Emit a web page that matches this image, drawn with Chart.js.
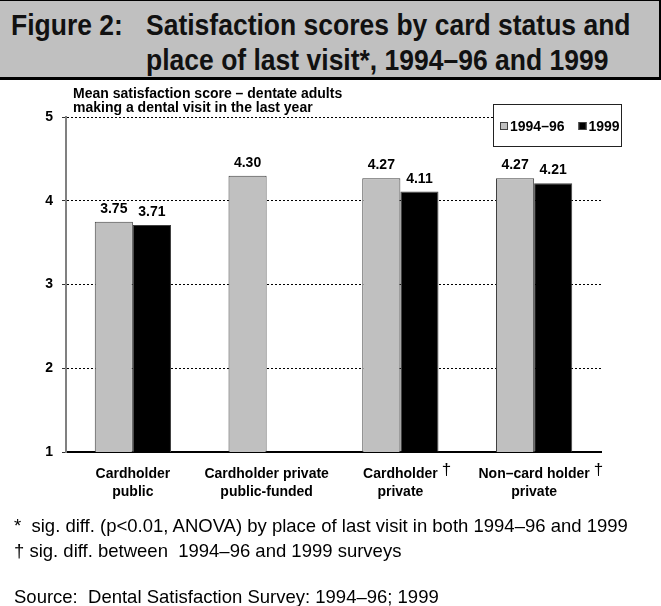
<!DOCTYPE html>
<html>
<head>
<meta charset="utf-8">
<script src="https://cdn.jsdelivr.net/npm/chart.js@4/dist/chart.umd.min.js"></script>
<style>
html,body{margin:0;padding:0;background:#fff;width:661px;height:606px;overflow:hidden;font-family:"Liberation Sans",Arial,sans-serif;color:#000;}
#wrap{position:relative;width:661px;height:606px;}
#chart{position:absolute;left:0;top:0;}
.band{position:absolute;left:0;top:0;width:659px;height:76px;background:#c0c0c0;border-top:1px solid #000;border-bottom:3px solid #000;border-right:2px solid #000;}
.t{position:absolute;font-weight:bold;font-size:26.5px;line-height:32px;color:#111;white-space:pre;transform:scaleY(1.1);transform-origin:0 0;}
.ycap{position:absolute;left:73px;top:86px;font-weight:bold;font-size:14px;line-height:14px;white-space:pre;}
.fn{position:absolute;left:14px;font-size:18.5px;line-height:25px;white-space:pre;}
</style>
</head>
<body>
<div id="wrap">
  <canvas id="chart" width="661" height="606"></canvas>
  <div class="band"></div>
  <div class="t" style="left:11px;top:7px;">Figure 2:</div>
  <div class="t" style="left:146px;top:7px;">Satisfaction scores by card status and
place of last visit*, 1994–96 and 1999</div>
  <div class="ycap">Mean satisfaction score – dentate adults
making a dental visit in the last year</div>
  <div class="fn" style="top:513px;">*  sig. diff. (p&lt;0.01, ANOVA) by place of last visit in both 1994–96 and 1999
† sig. diff. between  1994–96 and 1999 surveys</div>
  <div class="fn" style="top:584px;">Source:  Dental Satisfaction Survey: 1994–96; 1999</div>
</div>
<script>
const categories = [
  ['Cardholder', 'public'],
  ['Cardholder private', 'public-funded'],
  ['Cardholder', 'private'],
  ['Non–card holder', 'private']
];
const sigMarks = ['', '', '†', '†'];
const seriesLabels = ['1994–96', '1999'];
const series1994 = [3.75, 4.30, 4.27, 4.27];
const series1999 = [3.71, null, 4.11, 4.21];
const yTicks = [1, 2, 3, 4, 5];

const FONT = '"Liberation Sans", Arial, sans-serif';

const valueLabels = {
  id: 'valueLabels',
  afterDatasetsDraw(chart) {
    const ctx = chart.ctx;
    ctx.save();
    ctx.font = 'bold 14px ' + FONT;
    ctx.fillStyle = '#000';
    ctx.textAlign = 'center';
    ctx.textBaseline = 'alphabetic';
    chart.data.datasets.forEach((ds, i) => {
      const meta = chart.getDatasetMeta(i);
      meta.data.forEach((bar, j) => {
        const v = ds.data[j];
        if (v == null) return;
        ctx.fillText(v.toFixed(2), bar.x, bar.y - 9);
      });
    });
    ctx.restore();
  }
};

const sigMarker = {
  id: 'sigMarker',
  afterDraw(chart) {
    const xs = chart.scales.x, ctx = chart.ctx;
    ctx.save();
    sigMarks.forEach((m, i) => {
      if (!m) return;
      ctx.font = 'bold 14px ' + FONT;
      const w = ctx.measureText(categories[i][0]).width;
      const cx = xs.getPixelForValue(i);
      ctx.font = '17px ' + FONT;
      ctx.fillStyle = '#000';
      ctx.textAlign = 'left';
      ctx.textBaseline = 'alphabetic';
      ctx.fillText(m, cx + w / 2 + 4, xs.top + 23);
    });
    ctx.restore();
  }
};

const boxLegend = {
  id: 'boxLegend',
  afterDraw(chart) {
    const ctx = chart.ctx, a = chart.chartArea;
    const L = a.right - 108, T = a.top - 13, W = 129, H = 43;
    ctx.save();
    ctx.fillStyle = '#fff';
    ctx.fillRect(L, T, W, H);
    ctx.strokeStyle = '#222';
    ctx.lineWidth = 1;
    ctx.strokeRect(L + 0.5, T + 0.5, W - 1, H - 1);
    ctx.font = 'bold 14px ' + FONT;
    ctx.textBaseline = 'middle';
    ctx.textAlign = 'left';
    let x = L + 7;
    const y = T + 22;
    chart.data.datasets.forEach(ds => {
      ctx.fillStyle = ds.backgroundColor;
      ctx.fillRect(x, y - 4, 8, 8);
      ctx.strokeStyle = ds.borderColor;
      ctx.strokeRect(x + 0.5, y - 3.5, 7, 7);
      ctx.fillStyle = '#000';
      ctx.fillText(ds.label, x + 10, y + 1);
      x += 10 + ctx.measureText(ds.label).width + 14;
    });
    ctx.restore();
  }
};

new Chart(document.getElementById('chart'), {
  type: 'bar',
  data: {
    labels: categories,
    datasets: [
      { label: seriesLabels[0], data: series1994, backgroundColor: '#c0c0c0', borderColor: '#404040', borderWidth: 1 },
      { label: seriesLabels[1], data: series1999, backgroundColor: '#000000', borderColor: '#404040', borderWidth: 1 }
    ]
  },
  options: {
    responsive: false,
    animation: false,
    devicePixelRatio: 1,
    categoryPercentage: 0.57,
    barPercentage: 1.0,
    layout: { padding: { top: 117, right: 60, left: 0, bottom: 0 } },
    plugins: { legend: { display: false }, title: { display: false }, tooltip: { enabled: false } },
    scales: {
      x: {
        grid: { display: false, drawTicks: false, tickLength: 0 },
        border: { display: true, color: '#000', width: 2 },
        ticks: { color: '#000', font: { family: FONT, size: 14, weight: 'bold', lineHeight: 1.3 }, padding: 13, maxRotation: 0, autoSkip: false },
        afterFit: s => { s.height = 154; }
      },
      y: {
        min: 1, max: 5,
        afterBuildTicks: s => { s.ticks = yTicks.map(v => ({ value: v })); },
        grid: { color: '#000', lineWidth: 1, tickLength: 4, tickColor: '#333', tickBorderDash: [], drawTicks: true },
        border: { display: true, color: '#808080', width: 2, dash: [2, 2] },
        ticks: { color: '#000', font: { family: FONT, size: 14, weight: 'bold' }, padding: 9 },
        afterFit: s => { s.width = 66; }
      }
    }
  },
  plugins: [valueLabels, boxLegend, sigMarker]
});
</script>
</body>
</html>
